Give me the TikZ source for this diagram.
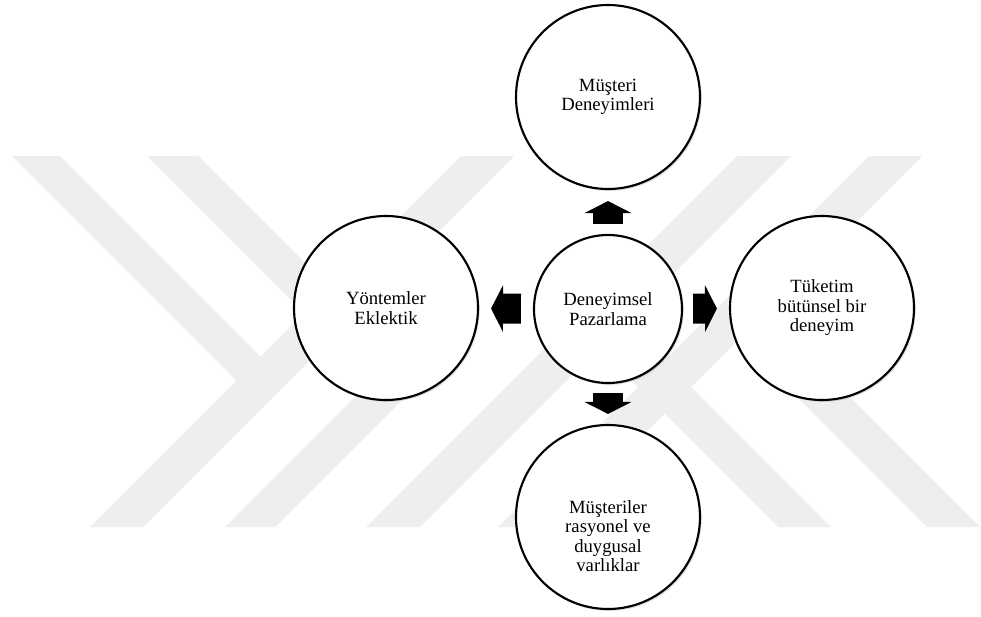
\documentclass[tikz,border=0pt]{standalone}
\usepackage{fontspec}
\setmainfont{Liberation Serif}
\usetikzlibrary{arrows.meta, positioning, calc, shadows}
\definecolor{wmgray}{RGB}{238,238,238}

\begin{document}
\begin{tikzpicture}[x=0.75pt, y=-0.75pt, >={Triangle[width=35pt, length=9pt]},
		font=\fontsize{14}{14.6}\selectfont,
		bigc/.style={draw, circle, line width=1.6pt, fill=white, minimum size=138pt, inner sep=0pt, align=center,
			drop shadow={shadow xshift=1.2pt, shadow yshift=-1.4pt, opacity=0.25}},
		midc/.style={bigc, minimum size=111pt},
		blockarr/.style={->, line width=22.5pt}]
				\fill[white] (0,0) rectangle (981,617);
				\useasboundingbox (0,0) rectangle (981,617);
				
				% watermark bands
				\fill[wmgray] (12,156) -- (60,156) -- (260.5,356.5) -- (236.5,380.5) -- cycle;
				\fill[wmgray] (461,156) -- (514,156) -- (143,527) -- (90,527) -- cycle;
				\fill[wmgray] (147,156) -- (198,156) -- (422,380) -- (275,527) -- (225,527) -- (371.5,380.5) -- cycle;
				\fill[wmgray] (737,156) -- (791,156) -- (420,527) -- (366,527) -- cycle;
				\fill[wmgray] (869,156) -- (922,156) -- (551,527) -- (498,527) -- cycle;
				\fill[wmgray] (778,527) -- (831,527) -- (625.5,321.5) -- (599,348) -- cycle;
				\fill[wmgray] (927,527) -- (980,527) -- (765.5,312.5) -- (739,339) -- cycle;
				
				\node[midc] (dp) at (608,309) {Deneyimsel\\Pazarlama};
				\node[bigc] (md) at (608,97) {Müşteri\\Deneyimleri};
				\node[bigc] (ye) at (386,308) {Yöntemler\\Eklektik};
				\node[bigc] (tb) at (822,308) {Tüketim\\bütünsel bir\\deneyim};
				\node[bigc] (mr) at (608,517) {};
				\node[align=center] (mrtext) at ($(mr.center)+(0,19)$) {Müşteriler\\rasyonel ve\\duygusal\\varlıklar};
				
				\draw[blockarr, shorten <=7.5pt, shorten >=8.25pt] (dp) -- (md);
				\draw[blockarr, shorten <=9pt, shorten >=9pt] (dp) -- (ye);
				\draw[blockarr, shorten <=7.5pt, shorten >=9pt] (dp) -- (tb);
				\draw[blockarr, shorten <=6.75pt, shorten >=7.5pt] (dp) -- (mr);
			\end{tikzpicture}
\end{document}
